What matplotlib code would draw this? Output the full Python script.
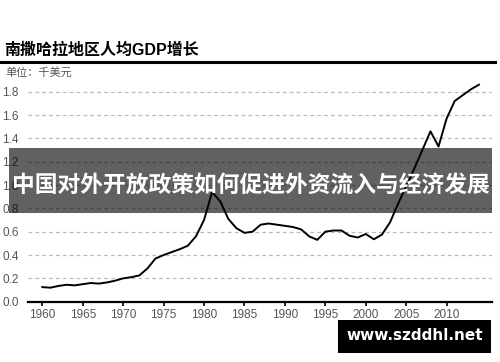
import matplotlib
matplotlib.use("Agg")
import matplotlib.pyplot as plt
from matplotlib.patches import Rectangle

plt.rcParams['font.family'] = ['Liberation Sans', 'Noto Sans CJK SC', 'DejaVu Sans']

# 数据（千美元）
years = list(range(1960, 2015))
gdp = [0.125, 0.12, 0.135, 0.145, 0.14, 0.15, 0.16, 0.155, 0.165, 0.18,
       0.20, 0.21, 0.225, 0.285, 0.37, 0.40, 0.425, 0.45, 0.48, 0.56,
       0.70, 0.94, 0.86, 0.71, 0.63, 0.59, 0.60, 0.66, 0.67, 0.66,
       0.65, 0.64, 0.62, 0.56, 0.53, 0.60, 0.61, 0.61, 0.565, 0.55,
       0.58, 0.535, 0.575, 0.68, 0.84, 0.99, 1.14, 1.30, 1.46, 1.33,
       1.57, 1.72, 1.77, 1.82, 1.86]
xticks = [1960, 1965, 1970, 1975, 1980, 1985, 1990, 1995, 2000, 2005, 2010]
yticks = [0.0, 0.2, 0.4, 0.6, 0.8, 1.0, 1.2, 1.4, 1.6, 1.8]

title = "南撒哈拉地区人均GDP增长"
unit = "单位：千美元"
banner = "中国对外开放政策如何促进外资流入与经济发展"
watermark = "www.szddhl.net"

fig = plt.figure(figsize=(5, 3.62), dpi=100)
ax = fig.add_axes([0.056, 0.1666, 0.927, 0.6124])

for y in yticks[1:]:
    ax.axhline(y, color='#bbbbbb', lw=0.9, ls=(0, (3, 2.5)), zorder=1)
ax.plot(years, gdp, color='black', lw=1.4, zorder=3)

ax.set_xlim(1958.23, 2015.55)
ax.set_ylim(0, 1.9)
ax.set_xticks(xticks)
ax.set_yticks(yticks)
ax.set_yticklabels([f"{v:.1f}" for v in yticks])
for s in ['top', 'right', 'left']:
    ax.spines[s].set_visible(False)
ax.spines['bottom'].set_linewidth(1.6)
ax.tick_params(axis='x', length=3, width=1.2, labelsize=8.5, labelcolor='#555555', pad=2)
ax.tick_params(axis='y', length=0, labelsize=8.5, labelcolor='#555555', pad=2)
for lab in ax.get_yticklabels():
    lab.set_horizontalalignment('left')
    lab.set_x(-0.05)

# 标题和单位
fig.text(0.008, 1 - 50 / 362, title, fontsize=11.5, fontweight='bold',
         family=['Liberation Sans', 'Noto Sans CJK SC'], va='center', ha='left')
fig.add_artist(plt.Line2D([0, 0.99], [1 - 62 / 362] * 2, color='black', lw=2.2))
fig.text(0.01, 1 - 72 / 362, unit, fontsize=8, color='#555555',
         family=['Noto Sans CJK SC'], va='center', ha='left')

# 横幅
fig.add_artist(Rectangle((9 / 500, 1 - 212.7 / 362), 483 / 500, 64.4 / 362,
                         transform=fig.transFigure, facecolor='black',
                         alpha=0.62, edgecolor='none', zorder=5))
fig.text(0.502, 1 - 185 / 362, banner, fontsize=16.4, fontweight='bold',
         color='white', family=['Noto Sans CJK SC'], ha='center', va='center', zorder=6)

# 水印
fig.add_artist(Rectangle((338.3 / 500, 1 - 352.7 / 362), 152.4 / 500, 32.7 / 362,
                         transform=fig.transFigure, facecolor='black',
                         edgecolor='none', zorder=5))
fig.text(414.5 / 500, 1 - 336 / 362, watermark, fontsize=11, fontweight='bold',
         color='white', family=['DejaVu Sans'], ha='center', va='center', zorder=6)

fig.savefig("out.png", dpi=100)
